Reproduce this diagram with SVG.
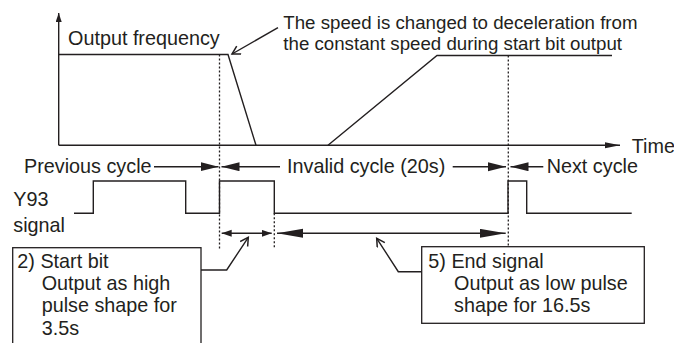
<svg xmlns="http://www.w3.org/2000/svg" width="674" height="343" viewBox="0 0 674 343">
<style>
  text { font-family: "Liberation Sans", Arial, sans-serif; font-size: 19.8px; fill: #231f20; }
  .note { font-size: 18.7px; }
  .ln { fill: none; stroke: #231f20; stroke-width: 1.4; }
  .dot { fill: none; stroke: #231f20; stroke-width: 1.3; stroke-dasharray: 2 2; }
  .box { fill: #fff; stroke: #231f20; stroke-width: 1.3; }
</style>
<defs>
  <marker id="axis" markerUnits="userSpaceOnUse" markerWidth="16" markerHeight="8" refX="15" refY="3" orient="auto">
    <path d="M0,0 L15,3 L0,6 z" fill="#231f20"/>
  </marker>
  <marker id="axisY" markerUnits="userSpaceOnUse" markerWidth="10" markerHeight="8" refX="9" refY="3" orient="auto">
    <path d="M0,0 L9,3 L0,6 z" fill="#231f20"/>
  </marker>
  <marker id="cyc" markerUnits="userSpaceOnUse" markerWidth="19" markerHeight="10" refX="18" refY="4.5" orient="auto">
    <path d="M0,0 L18,4.5 L0,9 z" fill="#231f20"/>
  </marker>
  <marker id="sb" markerUnits="userSpaceOnUse" markerWidth="11" markerHeight="8" refX="10" refY="3.5" orient="auto-start-reverse">
    <path d="M0,0 L10,3.5 L0,7 z" fill="#231f20"/>
  </marker>
  <marker id="es" markerUnits="userSpaceOnUse" markerWidth="27" markerHeight="10" refX="26" refY="4.5" orient="auto-start-reverse">
    <path d="M0,0 L26,4.5 L0,9 z" fill="#231f20"/>
  </marker>
  <marker id="open" markerUnits="userSpaceOnUse" markerWidth="12" markerHeight="12" refX="9" refY="5" orient="auto">
    <path d="M1,0.5 L9,5 L1,9.5" fill="none" stroke="#231f20" stroke-width="1.5"/>
  </marker>
</defs>

<g id="axes">
  <line class="ln" x1="58.7" y1="145.3" x2="58.7" y2="13" marker-end="url(#axisY)"/>
  <line class="ln" x1="58.7" y1="145.3" x2="620" y2="145.3" marker-end="url(#axis)"/>
  <text x="631.7" y="152.5">Time</text>
  <text x="68" y="44.5">Output frequency</text>
</g>

<g id="frequency-curve">
  <polyline class="ln" points="58.7,54.5 228,54.5 256,145.3"/>
  <polyline class="ln" points="328,145.3 437,55.5 612,55.5"/>
</g>

<g id="note-deceleration">
  <text class="note" x="283.3" y="28.5">The speed is changed to deceleration from</text>
  <text class="note" x="283.3" y="50">the constant speed during start bit output</text>
</g>

<g id="cycle-labels">
  <text x="24" y="172.7">Previous cycle</text>
  <text x="287" y="172.7">Invalid cycle (20s)</text>
  <text x="546.7" y="172.7">Next cycle</text>
</g>

<g id="y93-signal">
  <text x="13.3" y="206">Y93</text>
  <text x="13.3" y="231.7">signal</text>
  <path class="ln" d="M74,213.3 H93.3 V181 H185.7 V213.3 H219.5 V181 H274.3 V213.3 H508 V181 H526.7 V213.3 H631.7"/>
</g>

<g id="box-start-bit">
  <rect class="box" x="12.7" y="247.7" width="188.3" height="105"/>
  <text x="17.3" y="267.5">2) Start bit</text>
  <text x="41.7" y="290">Output as high</text>
  <text x="41.7" y="312.3">pulse shape for</text>
  <text x="41.7" y="334.7">3.5s</text>
</g>

<g id="box-end-signal">
  <rect class="box" x="421.7" y="246.7" width="222.6" height="76.6"/>
  <text x="428.3" y="268.3">5) End signal</text>
  <text x="454" y="289.5">Output as low pulse</text>
  <text x="454" y="312">shape for 16.5s</text>
</g>

<g id="connectors">
  <line class="dot" x1="219.5" y1="54.5" x2="219.5" y2="249"/>
  <line class="dot" x1="274.3" y1="213.3" x2="274.3" y2="249"/>
  <line class="dot" x1="508.3" y1="55.5" x2="508.3" y2="246"/>
  <line class="ln" x1="278" y1="27.7" x2="232" y2="54" marker-end="url(#open)"/>
  <line class="ln" x1="154" y1="166.7" x2="218.5" y2="166.7" marker-end="url(#cyc)"/>
  <line class="ln" x1="280" y1="166.7" x2="221.5" y2="166.7" marker-end="url(#cyc)"/>
  <line class="ln" x1="452.7" y1="166.7" x2="506" y2="166.7" marker-end="url(#cyc)"/>
  <line class="ln" x1="543.3" y1="166.7" x2="510.5" y2="166.7" marker-end="url(#cyc)"/>
  <line class="ln" x1="221.7" y1="233.3" x2="271.7" y2="233.3" marker-start="url(#sb)" marker-end="url(#sb)"/>
  <line class="ln" x1="277" y1="233.3" x2="505.7" y2="233.3" marker-start="url(#es)" marker-end="url(#es)"/>
  <polyline class="ln" points="201,270 226.7,270 248.3,237.3" marker-end="url(#open)"/>
  <polyline class="ln" points="421.7,271.7 398.3,271.7 376.7,238.3" marker-end="url(#open)"/>
</g>
</svg>
